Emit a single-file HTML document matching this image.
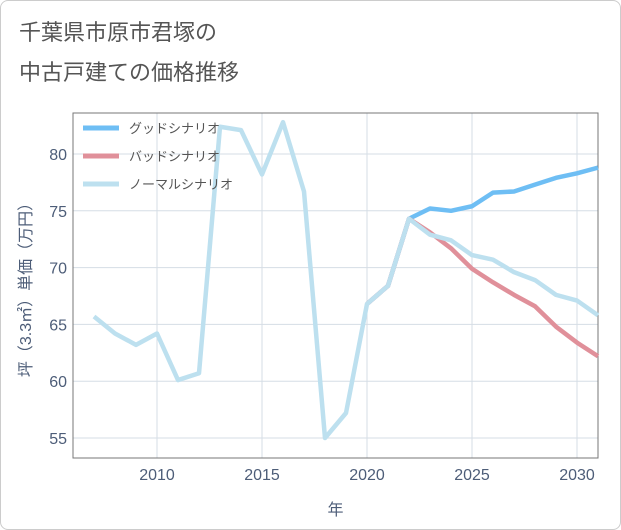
<!DOCTYPE html>
<html><head><meta charset="utf-8"><style>
body{margin:0;background:#fff;font-family:"Liberation Sans","Noto Sans CJK JP",sans-serif;}
#wrap{position:relative;width:619px;height:528px;border:1px solid #ccc;border-radius:8px;overflow:hidden;background:#fff;}
.title{position:absolute;left:18px;font-size:22px;color:#555;}
</style></head><body>
<div id="wrap">
<div class="title" style="top:14px">千葉県市原市君塚の</div>
<div class="title" style="top:54px">中古戸建ての価格推移</div>
<svg id="chart" width="621" height="530" style="position:absolute;left:0;top:0"></svg>
</div>
<script>
const normalYears=[2007,2008,2009,2010,2011,2012,2013,2014,2015,2016,2017,2018,2019,2020,2021,2022,2023,2024,2025,2026,2027,2028,2029,2030,2031];
const normalValues=[65.7,64.2,63.2,64.2,60.1,60.7,82.4,82.1,78.2,82.8,76.7,55.0,57.2,66.8,68.4,74.3,72.9,72.4,71.1,70.7,69.6,68.9,67.6,67.1,65.8];
const scenarioYears=[2020,2021,2022,2023,2024,2025,2026,2027,2028,2029,2030,2031];
const goodValues=[66.8,68.4,74.3,75.2,75.0,75.4,76.6,76.7,77.3,77.9,78.3,78.8];
const badValues=[66.8,68.4,74.3,73.1,71.7,69.9,68.7,67.6,66.6,64.8,63.4,62.2];
const xTicks=[2010,2015,2020,2025,2030];
const yTicks=[55,60,65,70,75,80];
const legendLabels=["グッドシナリオ","バッドシナリオ","ノーマルシナリオ"];
const colors=["#6ebef4","#e0909a","#bde0ef"];
const NS="http://www.w3.org/2000/svg";
const svg=document.getElementById('chart');
const L=72,R=597,T=112,B=457;
const tc='#4d5d78';
const x=v=>L+(v-2006)*(R-L)/25;
const y=v=>153+(80-v)*284/25;
function mk(tag,attrs){const e=document.createElementNS(NS,tag);for(const k in attrs)e.setAttribute(k,attrs[k]);svg.appendChild(e);return e;}
xTicks.forEach(t=>{
 const g=mk('line',{x1:x(t),x2:x(t),y1:T,y2:B,stroke:'#d5dde5'});
 
 
 const tx=mk('text',{x:x(t),y:B+22,'text-anchor':'middle','font-size':16,fill:tc});
 tx.textContent=t;
 
 
});
yTicks.forEach(t=>{
 const g=mk('line',{x1:L,x2:R,y1:y(t),y2:y(t),stroke:'#d5dde5'});
 
 
 const tx=mk('text',{x:L-6,y:y(t)+6,'text-anchor':'end','font-size':16,fill:tc});
 tx.textContent=t;
 
 
});
const fr=mk('rect',{x:L,y:T,width:R-L,height:B-T,fill:'none',stroke:'#777','stroke-width':1});


function line(xs,vs,c,name){
 const p=mk('polyline',{points:xs.map((a,i)=>x(a)+','+y(vs[i])).join(' '),fill:'none',stroke:c,'stroke-width':4.5,'stroke-linejoin':'round'});
 
 
}
line(scenarioYears,goodValues,colors[0],'good-scenario-line');
line(scenarioYears,badValues,colors[1],'bad-scenario-line');
line(normalYears,normalValues,colors[2],'normal-scenario-line');
legendLabels.forEach((lab,i)=>{
 const yy=127+i*28;
 const l=mk('line',{x1:82,x2:118,y1:yy,y2:yy,stroke:colors[i],'stroke-width':5});
 
 
 const t=mk('text',{x:128,y:yy+5,'font-size':13,fill:'#555'});
 t.textContent=lab;
 
 
});
const xt=mk('text',{x:(L+R)/2,y:514,'text-anchor':'middle','font-size':16,fill:tc});
xt.textContent='年';


const yt=mk('text',{x:0,y:0,'text-anchor':'middle','font-size':16,fill:tc,transform:'translate(30,285) rotate(-90)'});
yt.textContent='坪（3.3㎡）単価（万円）';


</script>
</body></html>
